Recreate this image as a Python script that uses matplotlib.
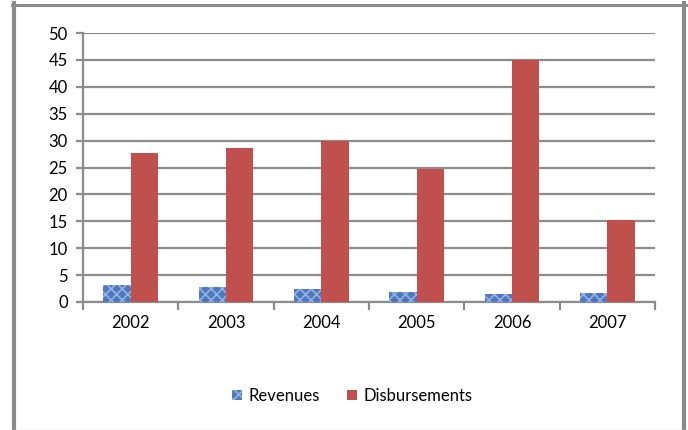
import matplotlib.pyplot as plt
import numpy as np
from matplotlib.lines import Line2D

years = ['2002', '2003', '2004', '2005', '2006', '2007']
revenues = [3.1, 2.7, 2.5, 1.8, 1.5, 1.6]
disbursements = [27.7, 28.6, 29.9, 24.7, 45.0, 15.2]

plt.rcParams['font.family'] = ['Lato', 'DejaVu Sans']
plt.rcParams['hatch.linewidth'] = 1.2
W, H = 688, 430

fig = plt.figure(figsize=(W / 100, H / 100), dpi=100)
ax = fig.add_axes([83 / W, 1 - 302 / H, (655 - 83) / W, (302 - 33) / H])

x = np.arange(len(years))
bw = 0.285
grid_c = '#8c8c8c'

ax.bar(x - bw / 2, revenues, bw, facecolor='#4f79bf', edgecolor='#93b2e3',
       hatch='xxx', linewidth=0, label='Revenues', zorder=3)
ax.bar(x + bw / 2, disbursements, bw, color='#c0504d', label='Disbursements', zorder=3)

ax.set_xlim(-0.5, len(years) - 0.5)
ax.set_ylim(0, 50)
ax.set_yticks(range(0, 51, 5))
ax.yaxis.grid(True, color=grid_c, linewidth=1.6, zorder=0)

ax.set_xticks(x)
ax.set_xticklabels(years)
ax.set_xticks(np.arange(-0.5, len(years)), minor=True)
ax.tick_params(axis='x', which='major', length=0, pad=9, labelsize=12)
ax.tick_params(axis='x', which='minor', length=6, width=1.6, color=grid_c)
ax.tick_params(axis='y', length=5, width=1.6, color=grid_c, labelsize=12, pad=6)

for side in ['top', 'right']:
    ax.spines[side].set_visible(False)
for side in ['left', 'bottom']:
    ax.spines[side].set_color(grid_c)
    ax.spines[side].set_linewidth(1.6)

leg = fig.legend(loc='center', bbox_to_anchor=(352 / W, 1 - 396 / H), ncol=2,
                 frameon=False, fontsize=12, handlelength=0.6, handleheight=0.6,
                 handletextpad=0.4, columnspacing=1.6)

# outer chart border
frame_c = '#8a8a8a'
fig.add_artist(Line2D([14 / W, 14 / W], [0, 1 - 3 / H], color=frame_c, linewidth=3,
                      transform=fig.transFigure))
fig.add_artist(Line2D([684 / W, 684 / W], [0, 1 - 3 / H], color=frame_c, linewidth=3,
                      transform=fig.transFigure))
fig.add_artist(Line2D([12 / W, 686 / W], [1 - 4.5 / H, 1 - 4.5 / H], color=frame_c,
                      linewidth=2.2, transform=fig.transFigure))
fig.add_artist(Line2D([12 / W, 686 / W], [1 - 429.5 / H, 1 - 429.5 / H], color='#cccccc',
                      linewidth=1, transform=fig.transFigure))

fig.savefig('out.png', dpi=100)
